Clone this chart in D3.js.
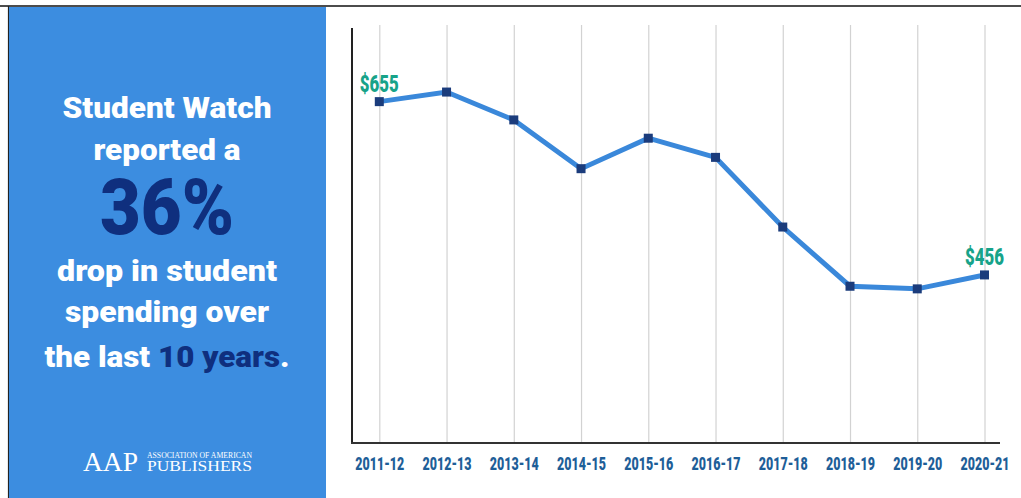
<!DOCTYPE html>
<html>
<head>
<meta charset="utf-8">
<script src="https://cdn.jsdelivr.net/npm/d3@7"></script>
<style>
  html, body { margin: 0; padding: 0; background: #fff; }
  svg { display: block; }
  .cond { font-family: "Roboto", "Liberation Sans", Arial, sans-serif; font-weight: 900; }
  .serif { font-family: "Liberation Serif", "DejaVu Serif", serif; }
</style>
</head>
<body>
<svg id="chart" width="1021" height="498"></svg>
<script>
const categories = ["2011-12","2012-13","2013-14","2014-15","2015-16","2016-17","2017-18","2018-19","2019-20","2020-21"];
const spending = [655, 666, 634, 578, 613, 591, 511, 443, 440, 456];
const labeledPoints = [{i: 0, text: "$655"}, {i: 9, text: "$456"}];

const svg = d3.select("#chart");

// frame lines
svg.append("line").attr("x1", 0).attr("x2", 1021).attr("y1", 6).attr("y2", 6)
  .attr("stroke", "#111").attr("stroke-width", 1.6);
svg.append("line").attr("x1", 8.5).attr("x2", 8.5).attr("y1", 6).attr("y2", 498)
  .attr("stroke", "#222").attr("stroke-width", 1.2);

// left blue panel
svg.append("rect").attr("x", 9).attr("y", 7).attr("width", 317).attr("height", 491)
  .attr("fill", "#3c8de0");

const panel = svg.append("g");
const cx = 167;
function line(y, size, len, parts) {
  const t = panel.append("text").attr("class", "cond").attr("x", cx).attr("y", y)
    .attr("text-anchor", "middle").attr("font-size", size)
    .attr("textLength", len).attr("lengthAdjust", "spacingAndGlyphs");
  parts.forEach(p => t.append("tspan").attr("fill", p[1]).text(p[0]));
}
const white = "#ffffff", navy = "#0f2f7e";
line(118, 30, 209, [["Student Watch", white]]);
line(160, 30, 147, [["reported a", white]]);
line(234, 77, 134, [["36%", navy]]);
line(281, 30, 220, [["drop in student", white]]);
line(322, 30, 204, [["spending over", white]]);
line(367, 30, 245, [["the last ", white], ["10 years", navy], [".", white]]);

// AAP logo
panel.append("text").attr("class", "serif").attr("x", 83).attr("y", 471)
  .attr("font-size", 27).attr("fill", white).attr("textLength", 55).attr("lengthAdjust", "spacingAndGlyphs").text("AAP");
panel.append("text").attr("class", "serif").attr("x", 147).attr("y", 458)
  .attr("font-size", 7.5).attr("fill", white).attr("textLength", 105).attr("lengthAdjust", "spacingAndGlyphs").text("ASSOCIATION OF AMERICAN");
panel.append("text").attr("class", "serif").attr("x", 147).attr("y", 471)
  .attr("font-size", 15).attr("fill", white).attr("textLength", 105).attr("lengthAdjust", "spacingAndGlyphs").text("PUBLISHERS");

// chart
const x = d3.scalePoint().domain(categories).range([379.3, 984.5]).padding(0);
const y = d3.scaleLinear().domain([263, 743]).range([443, 25]);
const axisX0 = 352, axisX1 = 1000, axisY = 443;

const g = svg.append("g");

// vertical gridlines
const xAxis = d3.axisBottom(x).tickSize(-(axisY - 25)).tickFormat("");
const gx = g.append("g").attr("transform", `translate(0,${axisY})`).call(xAxis);
gx.select(".domain").remove();
gx.selectAll(".tick line").attr("stroke", "#d2d2d2").attr("stroke-width", 1.2);

// axis lines
g.append("line").attr("x1", axisX0).attr("x2", axisX0).attr("y1", 28).attr("y2", axisY + 1)
  .attr("stroke", "#222").attr("stroke-width", 2);
g.append("line").attr("x1", axisX0 - 1).attr("x2", axisX1).attr("y1", axisY).attr("y2", axisY)
  .attr("stroke", "#333").attr("stroke-width", 2);

// category labels
const labelAxis = d3.axisBottom(x).tickSize(0).tickPadding(0);
const gl = g.append("g").attr("transform", `translate(0,${axisY})`).call(labelAxis);
gl.select(".domain").remove();
gl.selectAll(".tick text").attr("class", "cond").attr("dy", 0).attr("y", 27)
  .attr("font-size", 18).attr("fill", "#1e5e98")
  .attr("textLength", 49).attr("lengthAdjust", "spacingAndGlyphs");

// line
const lineGen = d3.line().x((d, i) => x(categories[i])).y(d => y(d));
g.append("path").datum(spending).attr("d", lineGen).attr("fill", "none")
  .attr("stroke", "#3a88da").attr("stroke-width", 5).attr("stroke-linejoin", "miter");

// markers
const ms = 9;
g.selectAll("rect.m").data(spending).enter().append("rect").attr("class", "m")
  .attr("x", (d, i) => x(categories[i]) - ms / 2).attr("y", d => y(d) - ms / 2)
  .attr("width", ms).attr("height", ms).attr("fill", "#1b3c7c");

// value labels
g.selectAll("text.v").data(labeledPoints).enter().append("text").attr("class", "v cond")
  .attr("x", d => x(categories[d.i]))
  .attr("y", d => y(spending[d.i]) - 10)
  .attr("text-anchor", "middle").attr("font-size", 23).attr("fill", "#17a389")
  .attr("textLength", 39).attr("lengthAdjust", "spacingAndGlyphs")
  .text(d => d.text);
</script>
</body>
</html>
